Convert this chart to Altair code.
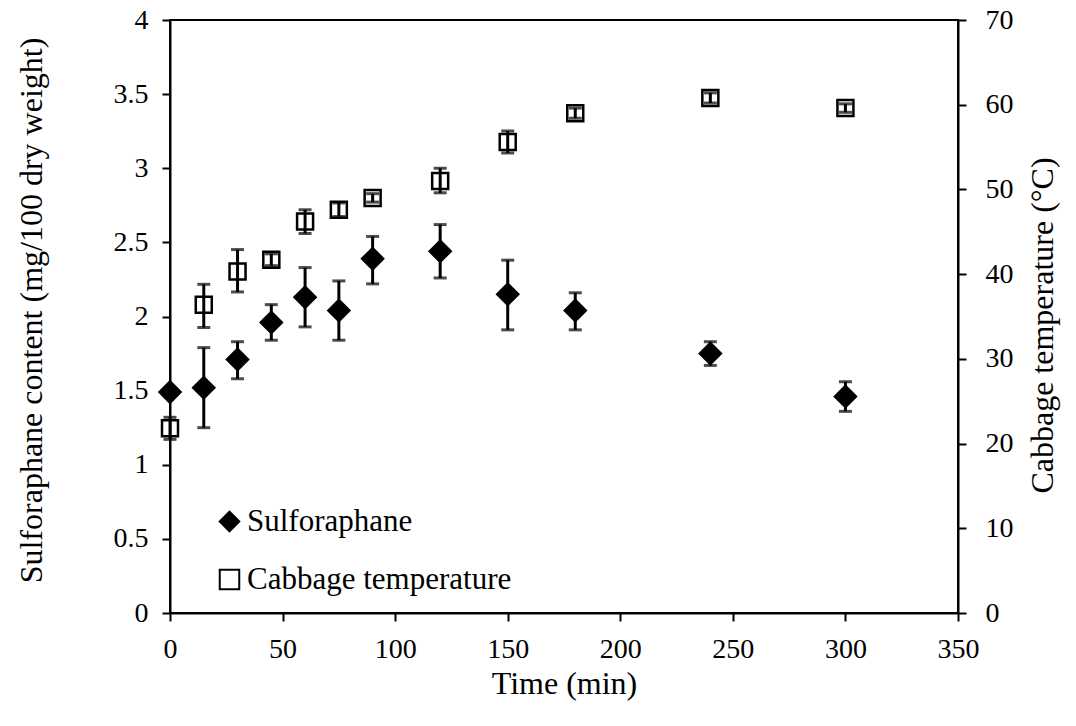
import altair as alt
import pandas as pd

# ---- data ----
time = [0, 15, 30, 45, 60, 75, 90, 120, 150, 180, 240, 300]
sulf = [1.49, 1.52, 1.71, 1.96, 2.13, 2.04, 2.39, 2.44, 2.15, 2.04, 1.75, 1.46]
sulf_lo = [1.47, 1.25, 1.58, 1.84, 1.93, 1.84, 2.22, 2.26, 1.91, 1.91, 1.67, 1.36]
sulf_hi = [1.51, 1.79, 1.83, 2.08, 2.33, 2.24, 2.54, 2.62, 2.38, 2.16, 1.83, 1.56]
temp = [21.8, 36.4, 40.3, 41.7, 46.2, 47.6, 49.0, 51.0, 55.6, 59.0, 60.8, 59.6]
temp_lo = [20.5, 33.7, 37.9, 41.0, 44.8, 46.8, 48.5, 49.6, 54.3, 58.4, 60.2, 59.1]
temp_hi = [23.1, 38.8, 42.9, 42.4, 47.6, 48.4, 49.5, 52.5, 56.9, 59.6, 61.4, 60.1]
series_names = ["Sulforaphane", "Cabbage temperature"]
x_ticks = [0, 50, 100, 150, 200, 250, 300, 350]
ys_ticks = [0, 0.5, 1, 1.5, 2, 2.5, 3, 3.5, 4]
yt_ticks = [0, 10, 20, 30, 40, 50, 60, 70]

df_s = pd.DataFrame({"time": time, "value": sulf, "lo": sulf_lo, "hi": sulf_hi,
                     "series": series_names[0]})
df_t = pd.DataFrame({"time": time, "value": temp, "lo": temp_lo, "hi": temp_hi,
                     "series": series_names[1]})

FONT = "Liberation Serif"

x_enc = alt.X("time:Q", scale=alt.Scale(domain=[0, 350], nice=False),
              axis=alt.Axis(values=x_ticks, title="Time (min)", titleX=394, titleY=70,
                            titleBaseline="middle", titleAlign="center",
                            labelPadding=14, labelFlush=False))

legend = alt.Legend(title=None, orient="none", legendX=44, legendY=486,
                    labelFont=FONT, labelFontSize=31, labelColor="black", labelLimit=500,
                    labelOffset=2, rowPadding=26, padding=0, symbolSize=380,
                    symbolStrokeColor="black", symbolStrokeWidth=2)
shape_enc = alt.Shape("series:N", scale=alt.Scale(domain=series_names, range=["diamond", "square"]),
                      legend=legend)
fill_enc = alt.Fill("series:N", scale=alt.Scale(domain=series_names, range=["black", "transparent"]),
                    legend=legend)
stroke_enc = alt.Stroke("series:N", scale=alt.Scale(domain=series_names, range=["black", "black"]),
                        legend=legend)

s_scale = alt.Scale(domain=[0, 4], nice=False)
t_scale = alt.Scale(domain=[0, 70], nice=False)

s_axis = alt.Axis(values=ys_ticks, format="~g", title="Sulforaphane content (mg/100 dry weight)",
                  titleX=-139, titleY=290, titleAngle=270, titleBaseline="middle",
                  titleAlign="center", labelPadding=14)
t_axis = alt.Axis(values=yt_ticks, orient="right", title="Cabbage temperature (°C)",
                  titleX=84, titleY=305, titleAngle=270, titleBaseline="middle",
                  titleAlign="center", labelPadding=19)


def series_layer(df, scale, axis, size):
    base = alt.Chart(df)
    rule = base.mark_rule(color="black", strokeWidth=3).encode(
        x=x_enc, y=alt.Y("lo:Q", scale=scale, axis=axis), y2="hi:Q")
    cap_lo = base.mark_tick(orient="horizontal", color="black", size=13, thickness=3).encode(
        x=x_enc, y=alt.Y("lo:Q", scale=scale, axis=axis))
    cap_hi = base.mark_tick(orient="horizontal", color="black", size=13, thickness=3).encode(
        x=x_enc, y=alt.Y("hi:Q", scale=scale, axis=axis))
    pts = base.mark_point(size=size, strokeWidth=2.5, opacity=1).encode(
        x=x_enc, y=alt.Y("value:Q", scale=scale, axis=axis),
        shape=shape_enc, fill=fill_enc, stroke=stroke_enc)
    return alt.layer(rule, cap_lo, cap_hi, pts)


chart = alt.layer(
    series_layer(df_s, s_scale, s_axis, 441),
    series_layer(df_t, t_scale, t_axis, 256),
).resolve_scale(y="independent").properties(
    width=788, height=593,
    background="white",
    autosize=alt.AutoSizeParams(type="none"),
    padding={"left": 170, "top": 20, "right": 118, "bottom": 113},
).configure_view(stroke="black", strokeWidth=2).configure_axis(
    grid=False, domainColor="black", domainWidth=2, tickColor="black", tickWidth=2,
    tickSize=8, labelFont=FONT, labelFontSize=28, labelColor="black",
    titleFont=FONT, titleFontSize=32, titleFontWeight="normal", titleColor="black",
).configure_legend(
    labelFont=FONT, labelFontSize=31, labelColor="black", labelLimit=500,
)

chart.save("out.html", embed_options={"renderer": "svg", "actions": False})
